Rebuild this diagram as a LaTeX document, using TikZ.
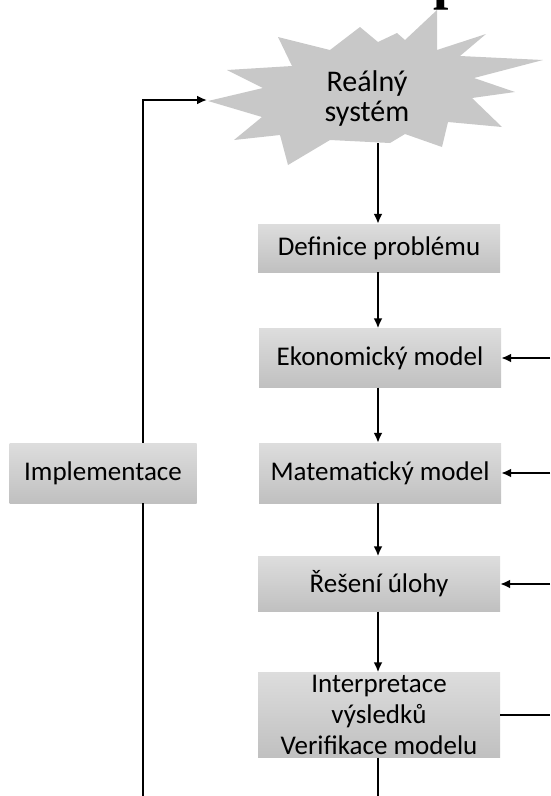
\documentclass[tikz,border=0pt]{standalone}
\usepackage{fontspec}
\setmainfont{Carlito}
\newfontfamily\titlefont{Liberation Serif}
\usetikzlibrary{arrows.meta}
\definecolor{boxtop}{RGB}{221,221,221}
\definecolor{boxbot}{RGB}{192,192,192}
\definecolor{burstgray}{RGB}{200,200,200}

\begin{document}
\begin{tikzpicture}[x=1pt,y=-1pt,
    stage/.style={top color=boxtop,bottom color=boxbot,minimum width=242pt,inner sep=0pt,
        align=center,font=\fontsize{27}{31}\selectfont},
    link/.style={line width=2.8pt,-{Latex[length=10pt,width=9pt]}},
    wire/.style={line width=2.8pt}]
    \useasboundingbox (0,0) rectangle (550,796);
    % cut-off title above the picture
    \node[anchor=base west,inner sep=0pt,font=\titlefont\bfseries\fontsize{55}{55}\selectfont] (title) at (433,-2) {p};
    % the real system
    \fill[burstgray] (208,101) -- (263,88) -- (227,70) -- (292,66) -- (278,37) -- (330,50)
        -- (360,27) -- (378,42) -- (397,33) -- (405,40) -- (437,10) -- (437,50) -- (486,34)
        -- (460,56) -- (543,60) -- (474,78) -- (515,92) -- (472,98) -- (502,127)
        -- (448,122) -- (442,147) -- (405,134) -- (390,143) -- (330,140) -- (288,165)
        -- (280,135) -- (234,140) -- (262,117) -- cycle;
    \node[align=center,font=\fontsize{30}{30}\selectfont] (realny) at (367,98) {Reálný\\systém};
    \coordinate (burst tip) at (207,100);
    \coordinate (burst foot) at (378,143);
    % stages
    \node[stage,minimum height=48pt] (definice) at (379,248) {Definice problému};
    \node[stage,minimum height=59pt] (ekonomicky) at (380,358) {Ekonomický model};
    \node[stage,minimum height=60pt] (matematicky) at (380,473) {Matematický model};
    \node[stage,minimum height=55pt] (reseni) at (379,584) {Řešení úlohy};
    \node[stage,minimum height=85pt] (interpretace) at (379,715) {Interpretace\\výsledků\\Verifikace modelu};
    \node[stage,minimum width=187pt,minimum height=60pt] (implementace) at (103,473) {Implementace};
    % free ends at the edges
    \coordinate (loop bend) at (143,100);
    \coordinate (left end) at (143,796);
    \coordinate (centre end) at (378,796);
    \coordinate (right edge) at (550,0);
    % arrows
    \draw[link] (burst foot) -- (definice.north -| burst foot);
    \draw[link] (definice.south -| burst foot) -- (ekonomicky.north -| burst foot);
    \draw[link] (ekonomicky.south -| burst foot) -- (matematicky.north -| burst foot);
    \draw[link] (matematicky.south -| burst foot) -- (reseni.north -| burst foot);
    \draw[link] (reseni.south -| burst foot) -- (interpretace.north -| burst foot);
    \draw[link] (implementace.north -| loop bend) -- (loop bend) -- (burst tip);
    \draw[wire] (implementace.south -| left end) -- (left end);
    \draw[wire] (interpretace.south -| centre end) -- (centre end);
    \draw[link] (ekonomicky.east -| right edge) -- (ekonomicky.east);
    \draw[link] (matematicky.east -| right edge) -- (matematicky.east);
    \draw[link] (reseni.east -| right edge) -- (reseni.east);
    \draw[wire] (interpretace.east) -- (interpretace.east -| right edge);
\end{tikzpicture}
\end{document}
